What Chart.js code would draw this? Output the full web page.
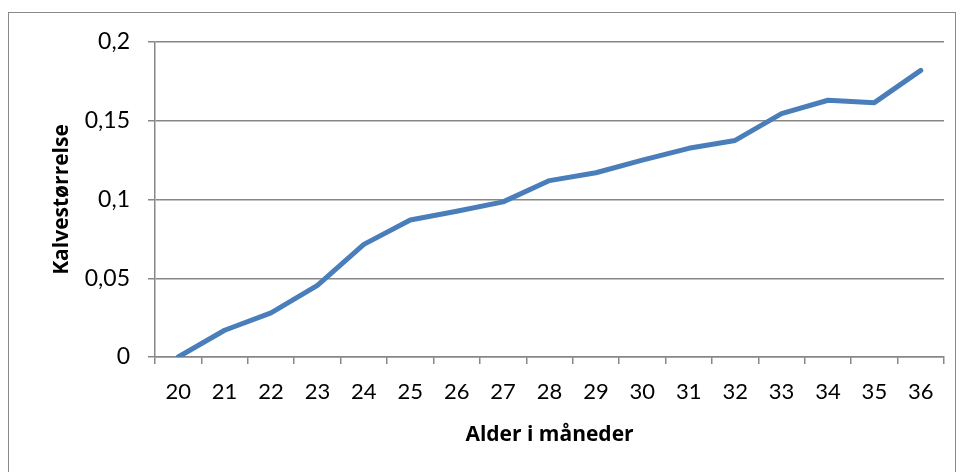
<!DOCTYPE html>
<html>
<head>
<meta charset="utf-8">
<script src="https://cdn.jsdelivr.net/npm/chart.js@4/dist/chart.umd.min.js"></script>
<style>
  html, body { margin: 0; padding: 0; background: #fff; }
  #wrap { position: relative; width: 961px; height: 472px; overflow: hidden; }
  #frame { position: absolute; left: 8px; top: 12px; width: 948px; height: 500px; border: 1px solid #8a8a8a; box-sizing: border-box; }
  canvas { position: absolute; left: 0; top: 0; }
</style>
</head>
<body>
<div id="wrap">
  <div id="frame"></div>
  <canvas id="c" width="961" height="472"></canvas>
</div>
<script>
// Kalvestørrelse etter alder (måneder)
const ages = ['20','21','22','23','24','25','26','27','28','29','30','31','32','33','34','35','36'];
const calfSize = [0, 0.017, 0.028, 0.0455, 0.0715, 0.087, 0.0925, 0.0985, 0.112, 0.117, 0.125, 0.1325, 0.1375, 0.1545, 0.163, 0.1615, 0.182];
const yTicks = [0, 0.05, 0.1, 0.15, 0.2];

const FONT = "Lato, 'Open Sans', 'DejaVu Sans Condensed', sans-serif";
const TITLE_FONT = "'Open Sans', 'DejaVu Sans Condensed', sans-serif";
const GRID = '#878787';

new Chart(document.getElementById('c'), {
  type: 'line',
  data: {
    labels: ages,
    datasets: [{
      data: calfSize,
      borderColor: '#4a7ebb',
      borderWidth: 5,
      pointRadius: 0,
      tension: 0,
      fill: false,
      borderCapStyle: 'round',
      borderJoinStyle: 'round'
    }]
  },
  options: {
    responsive: false,
    animation: false,
    events: [],
    layout: { padding: { left: 0, top: 42, right: 17, bottom: 0 } },
    plugins: { legend: { display: false }, tooltip: { enabled: false } },
    scales: {
      x: {
        offset: true,
        afterFit: s => { s.height = 115; },
        grid: {
          offset: true,
          drawOnChartArea: false,
          drawTicks: true,
          tickLength: 7,
          color: GRID,
          lineWidth: 1.5
        },
        border: { color: GRID, width: 1.5 },
        ticks: {
          color: '#000',
          font: { family: FONT, size: 22 },
          padding: 15,
          maxRotation: 0,
          autoSkip: false
        },
        title: {
          display: true,
          text: 'Alder i måneder',
          color: '#000',
          font: { family: TITLE_FONT, size: 21, weight: 'bold' },
          padding: { bottom: 24 }
        }
      },
      y: {
        min: 0,
        max: 0.2,
        afterFit: s => { s.width = 155; },
        afterBuildTicks: s => { s.ticks = yTicks.map(v => ({ value: v })); },
        grid: {
          drawTicks: true,
          tickLength: 7,
          color: GRID,
          lineWidth: 1.5
        },
        border: { color: GRID, width: 1.5 },
        ticks: {
          color: '#000',
          font: { family: FONT, size: 23 },
          padding: 18,
          callback: v => String(Math.round(v * 100) / 100).replace('.', ',')
        },
        title: {
          display: true,
          text: 'Kalvestørrelse',
          color: '#000',
          font: { family: TITLE_FONT, size: 21, weight: 'bold' },
          padding: { top: 49 }
        }
      }
    }
  }
});
</script>
</body>
</html>
